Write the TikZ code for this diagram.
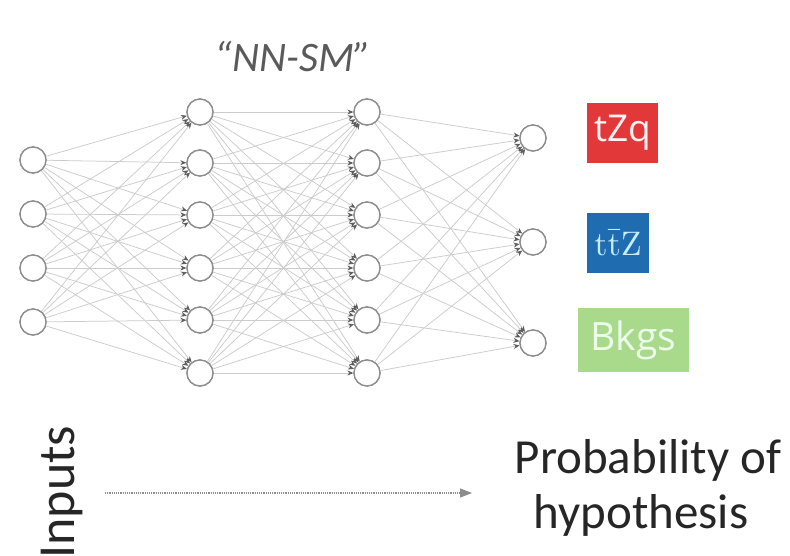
\documentclass[tikz,border=0pt]{standalone}
\usepackage[no-math]{fontspec}
\usepackage{graphicx}
\setmainfont{Carlito}
\newfontfamily\boxfont{Open Sans}
\usetikzlibrary{arrows.meta}
\definecolor{edgegray}{HTML}{CCCCCC}
\definecolor{tipgray}{HTML}{5E5E5E}
\definecolor{ringgray}{HTML}{8C8C8C}
\definecolor{tzqred}{HTML}{E2383A}
\definecolor{ttzblue}{HTML}{1F6DB0}
\definecolor{bkggreen}{HTML}{A9D98B}
\definecolor{titlegray}{HTML}{5A5A5A}
\tikzset{
  neuron/.style={circle, draw=ringgray, line width=1.3pt, fill=white,
    minimum size=26pt, inner sep=0pt},
  synapse/.style={draw=edgegray, line width=0.75pt,
    -{Stealth[length=6pt,width=5pt,color=tipgray]}},
  classbox/.style={inner sep=0pt, anchor=center},
  caption/.style={text=black!85, font=\fontsize{49}{56}\selectfont}
}
\begin{document}
\begin{tikzpicture}[x=1pt,y=-1pt]
\useasboundingbox (0,0) rectangle (790,555);
\fill[white] (0,0) rectangle (790,555);

% layers
\foreach \i/\y in {1/160,2/214,3/268,4/322}
  \node[neuron] (in\i) at (33,\y) {};
\foreach \i/\y in {1/112,2/163,3/215,4/268,5/320,6/373}{
  \node[neuron] (ha\i) at (200,\y) {};
  \node[neuron] (hb\i) at (367,\y) {};
}
\foreach \i/\y in {1/138,2/242,3/343}
  \node[neuron] (out\i) at (533,\y) {};

% fully connected links
\foreach \a in {1,...,4}
  \foreach \b in {1,...,6}
    \draw[synapse] (in\a) -- (ha\b);
\foreach \a in {1,...,6}
  \foreach \b in {1,...,6}
    \draw[synapse] (ha\a) -- (hb\b);
\foreach \a in {1,...,6}
  \foreach \b in {1,...,3}
    \draw[synapse] (hb\a) -- (out\b);

% redraw the neurons over the links
\foreach \y in {160,214,268,322}
  \node[neuron] at (33,\y) {};
\foreach \y in {112,163,215,268,320,373}{
  \node[neuron] at (200,\y) {};
  \node[neuron] at (367,\y) {};
}
\foreach \y in {138,242,343}
  \node[neuron] at (533,\y) {};

% title
\node[text=titlegray, font=\fontsize{42}{48}\selectfont\itshape] (title) at (293,57) {“NN-SM”};

% class labels
\node[classbox, fill=tzqred, minimum width=71pt, minimum height=60pt,
  text=white!95!red, font=\boxfont\fontsize{37}{44}\selectfont] (tzq) at (622.5,133) {tZq};
\node[classbox, fill=ttzblue, minimum width=62pt, minimum height=60pt,
  text=cyan!22!white] (ttz) at (618,243) {\scalebox{3.4}{$\mathrm{t\bar{t}Z}$}};
\node[classbox, fill=bkggreen, minimum width=111pt, minimum height=64pt,
  text=green!8!white, font=\boxfont\fontsize{39}{46}\selectfont] (bkg) at (633.5,340) {Bkgs};

% bottom captions
\begin{scope}
\clip (0,0) rectangle (790,555);
\node[caption, rotate=90, anchor=north west, font=\fontsize{52}{58}\selectfont] (inputs) at (38,562) {Inputs};
\end{scope}
\node[caption, anchor=base] (prob) at (648,473) {Probability of};
\node[caption, anchor=base] (hyp) at (641,528) {hypothesis};

\coordinate (flowstart) at (105,493);
\coordinate (flowend) at (472,493);
\draw[densely dotted, draw=black!45, line width=1.2pt,
  -{Triangle[length=12pt,width=9pt,color=black!45]}] (flowstart) -- (flowend);
\end{tikzpicture}
\end{document}
